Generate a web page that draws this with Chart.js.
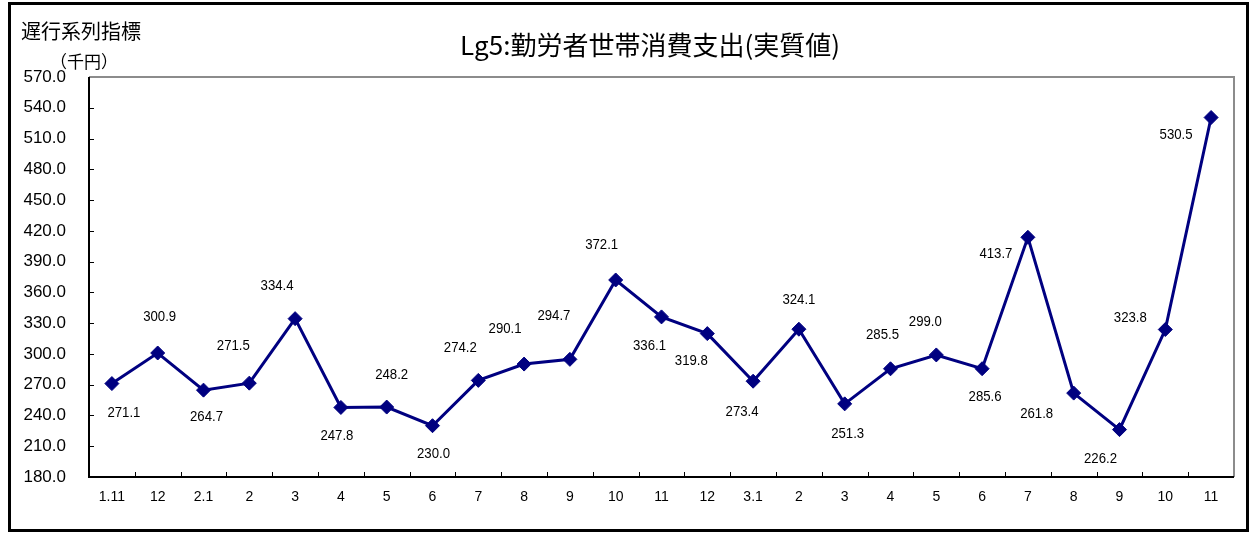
<!DOCTYPE html>
<html lang="ja">
<head>
<meta charset="UTF-8">
<title>Lg5:勤労者世帯消費支出(実質値)</title>
<script src="https://cdn.jsdelivr.net/npm/chart.js@4/dist/chart.umd.min.js"></script>
<style>
    html, body { margin: 0; padding: 0; background: #fff; }
    canvas { display: block; }
</style>
</head>
<body>
<canvas id="chart" width="1254" height="540"></canvas>
<script>
// 月ラベル
const months = ['1.11', '12', '2.1', '2', '3', '4', '5', '6', '7', '8', '9', '10', '11', '12',
    '3.1', '2', '3', '4', '5', '6', '7', '8', '9', '10', '11'];

// 消費支出（千円）
const spending = [271.1, 300.9, 264.7, 271.5, 334.4, 247.8, 248.2, 230.0, 274.2, 290.1,
    294.7, 372.1, 336.1, 319.8, 273.4, 324.1, 251.3, 285.5, 299.0, 285.6,
    413.7, 261.8, 226.2, 323.8, 530.5];

// 縦軸の範囲
const yMin = 180;
const yMax = 570;
const yStep = 30;

// 値ラベルの表示位置（点からのずれ, px）
const labelShift = [
    [12, 29], [2, -36], [3, 27], [-16, -37], [-18, -33], [-4, 28], [5, -32], [1, 28],
    [-18, -33], [-19, -35], [-16, -43], [-14, -35], [-12, 29], [-16, 27], [-11, 31],
    [0, -29], [3, 30], [-8, -34], [-11, -33], [3, 28], [-32, 17], [-37, 21], [-19, 29],
    [-35, -12], [-35, 17]
];

const NAVY = '#000080';
const LABEL_FONT = "'Liberation Sans', Arial, sans-serif";
const JP_FONT = "'Noto Sans CJK JP', sans-serif";

// 背景・枠・見出し・値ラベル
const decorations = {
    id: 'decorations',
    beforeDraw(chart) {
        const ctx = chart.ctx;
        ctx.save();
        ctx.fillStyle = '#fff';
        ctx.fillRect(0, 0, chart.width, chart.height);
        ctx.restore();
    },
    afterDatasetsDraw(chart) {
        const ctx = chart.ctx;
        const area = chart.chartArea;
        const x = chart.scales.x;
        const y = chart.scales.y;
        ctx.save();

        // 外枠
        ctx.strokeStyle = '#000';
        ctx.lineWidth = 3;
        ctx.strokeRect(9.5, 3.5, 1238, 527);

        // プロット枠（上・右は灰色）
        ctx.lineWidth = 2;
        ctx.strokeStyle = '#8c8c8c';
        ctx.beginPath();
        ctx.moveTo(area.left, area.top);
        ctx.lineTo(area.right, area.top);
        ctx.lineTo(area.right, area.bottom);
        ctx.stroke();
        ctx.strokeStyle = '#000';
        ctx.beginPath();
        ctx.moveTo(area.left, area.top);
        ctx.lineTo(area.left, area.bottom);
        ctx.lineTo(area.right, area.bottom);
        ctx.stroke();

        // 内向きの目盛り
        ctx.lineWidth = 1;
        ctx.beginPath();
        for (let v = yMin + yStep; v < yMax; v += yStep) {
            const py = Math.round(y.getPixelForValue(v)) + 0.5;
            ctx.moveTo(area.left, py);
            ctx.lineTo(area.left + 5, py);
        }
        for (let i = 1; i < months.length; i++) {
            const px = Math.round((x.getPixelForValue(i - 1) + x.getPixelForValue(i)) / 2) + 0.5;
            ctx.moveTo(px, area.bottom);
            ctx.lineTo(px, area.bottom - 5);
        }
        ctx.stroke();

        // 値ラベル（やや細めの字幅）
        ctx.fillStyle = '#000';
        ctx.font = `15px ${LABEL_FONT}`;
        ctx.textAlign = 'center';
        ctx.textBaseline = 'middle';
        chart.getDatasetMeta(0).data.forEach((pt, i) => {
            const [dx, dy] = labelShift[i];
            ctx.save();
            ctx.translate(pt.x + dx, pt.y + dy);
            ctx.scale(0.88, 1);
            ctx.fillText(spending[i].toFixed(1), 0, 0);
            ctx.restore();
        });

        // 見出し
        ctx.textAlign = 'left';
        ctx.font = `20px ${JP_FONT}`;
        ctx.fillText('遅行系列指標', 21, 31);
        ctx.font = `17px ${JP_FONT}`;
        ctx.fillText('（千円）', 50, 62);
        ctx.textAlign = 'center';
        ctx.font = `26px ${JP_FONT}`;
        ctx.fillText('Lg5:勤労者世帯消費支出(実質値)', 650, 45);
        ctx.restore();
    }
};

new Chart(document.getElementById('chart'), {
    type: 'line',
    data: {
        labels: months,
        datasets: [{
            data: spending,
            borderColor: NAVY,
            backgroundColor: NAVY,
            borderWidth: 3,
            tension: 0,
            pointStyle: 'rectRot',
            pointRadius: 7,
            pointBorderWidth: 1,
            pointBackgroundColor: NAVY,
            pointBorderColor: NAVY
        }]
    },
    options: {
        responsive: false,
        animation: false,
        layout: { padding: { top: 77, right: 20, left: 0, bottom: 0 } },
        plugins: {
            legend: { display: false },
            tooltip: { enabled: false }
        },
        scales: {
            x: {
                type: 'category',
                offset: true,
                grid: { display: false },
                border: { display: false },
                ticks: {
                    color: '#000',
                    padding: 4,
                    maxRotation: 0,
                    autoSkip: false,
                    font: { family: LABEL_FONT, size: 14 }
                },
                afterFit: scale => { scale.height = 63; }
            },
            y: {
                min: yMin,
                max: yMax,
                grid: { display: false },
                border: { display: false },
                ticks: {
                    stepSize: yStep,
                    color: '#000',
                    padding: 15,
                    font: { family: LABEL_FONT, size: 17 },
                    callback: v => v.toFixed(1)
                },
                afterFit: scale => { scale.width = 89; }
            }
        }
    },
    plugins: [decorations]
});
</script>
</body>
</html>
